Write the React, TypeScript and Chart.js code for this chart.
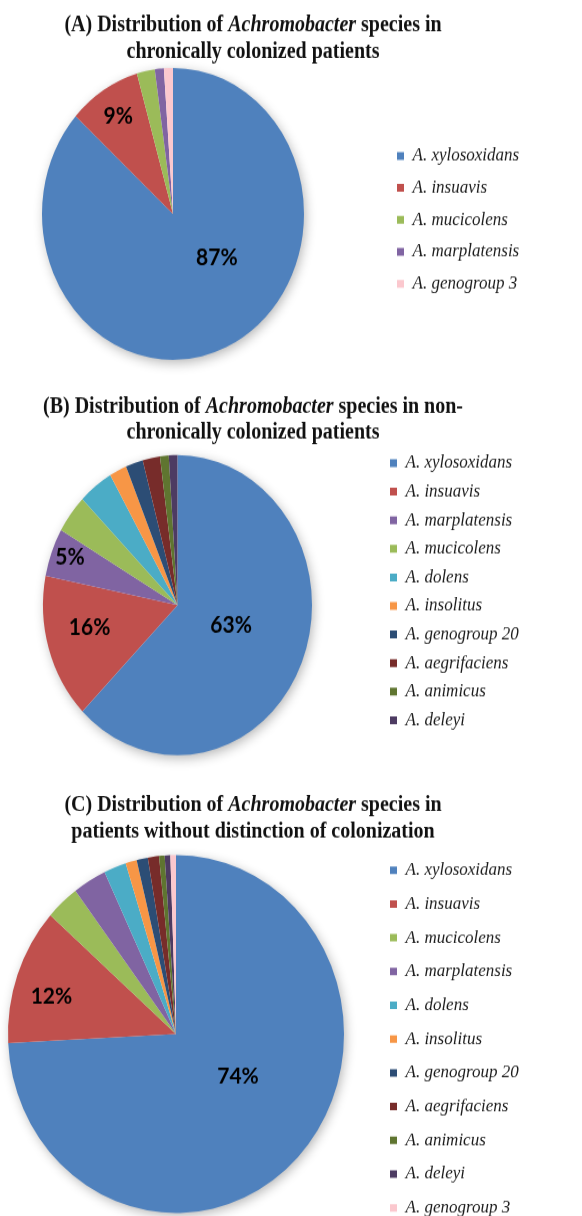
import React, { useEffect, useRef } from "react";
import { Chart, registerables } from "chart.js";

Chart.register(...registerables);

// ---------- data ----------
const speciesA = ["A. xylosoxidans", "A. insuavis", "A. mucicolens", "A. marplatensis", "A. genogroup 3"];
const countsA = [78, 8, 2, 1, 1];

const speciesB = [
  "A. xylosoxidans", "A. insuavis", "A. marplatensis", "A. mucicolens", "A. dolens",
  "A. insolitus", "A. genogroup 20", "A. aegrifaciens", "A. animicus", "A. deleyi",
];
const countsB = [60, 15, 5, 4, 4, 2, 2, 2, 1, 1];

const speciesC = [
  "A. xylosoxidans", "A. insuavis", "A. mucicolens", "A. marplatensis", "A. dolens",
  "A. insolitus", "A. genogroup 20", "A. aegrifaciens", "A. animicus", "A. deleyi", "A. genogroup 3",
];
const countsC = [138, 23, 6, 6, 4, 2, 2, 2, 1, 1, 1];

type Seg = { t: string; i: boolean };
const titleA: Seg[][] = [
  [{ t: "(A) Distribution of ", i: false }, { t: "Achromobacter", i: true }, { t: " species in", i: false }],
  [{ t: "chronically colonized patients", i: false }],
];
const titleB: Seg[][] = [
  [{ t: "(B) Distribution of ", i: false }, { t: "Achromobacter", i: true }, { t: " species in non-", i: false }],
  [{ t: "chronically colonized patients", i: false }],
];
const titleC: Seg[][] = [
  [{ t: "(C) Distribution of ", i: false }, { t: "Achromobacter", i: true }, { t: " species in", i: false }],
  [{ t: "patients without distinction of colonization", i: false }],
];

const speciesColors: Record<string, string> = {
  "A. xylosoxidans": "#4F81BD",
  "A. insuavis": "#C0504D",
  "A. mucicolens": "#9BBB59",
  "A. marplatensis": "#8064A2",
  "A. dolens": "#4BACC6",
  "A. insolitus": "#F79646",
  "A. genogroup 20": "#2C4D75",
  "A. aegrifaciens": "#772C2A",
  "A. animicus": "#5F7530",
  "A. deleyi": "#4D3B62",
  "A. genogroup 3": "#FBC8CE",
};

// ---------- layout / style per panel ----------
type Panel = {
  key: string;
  labels: string[];
  values: number[];
  title: Seg[][];
  top: number;
  boxH: number;
  S: number;
  Hu: number;
  cx: number; cy: number; r: number;
  titleYs: number[];
  legendBoxX: number; legendCenterY: number; legendPad: number;
  labelPlace: Record<number, [number, number]>;
};

const W = 582;
const LEGEND_FONT = 17;

const panels: Panel[] = [
  {
    key: "A", labels: speciesA, values: countsA, title: titleA,
    top: 0, boxH: 385, S: 1.115, Hu: 350,
    cx: 173, cy: 191.9, r: 131,
    titleYs: [22.6, 46.8],
    legendBoxX: 397, legendCenterY: 197.3, legendPad: 11.7,
    labelPlace: { 0: [-24, 0.45], 1: [0, 0.79] },
  },
  {
    key: "B", labels: speciesB, values: countsB, title: titleB,
    top: 385, boxH: 395, S: 1.115, Hu: 354,
    cx: 177.5, cy: 197.3, r: 134.5,
    titleYs: [19.9, 43.2],
    legendBoxX: 390, legendCenterY: 185.2, legendPad: 8.6,
    labelPlace: { 0: [-4, 0.42], 1: [4, 0.67], 2: [1, 0.86] },
  },
  {
    key: "C", labels: speciesC, values: countsC, title: titleC,
    top: 780, boxH: 436, S: 1.065, Hu: 430,
    cx: 176, cy: 238.5, r: 168,
    titleYs: [23.7, 49.0],
    legendBoxX: 390, legendCenterY: 243.2, legendPad: 14.7,
    labelPlace: { 0: [-10.6, 0.44], 1: [-3.7, 0.77] },
  },
];

const SERIF = "'Liberation Serif', 'Times New Roman', serif";

function PieChart({ p }: { p: Panel }) {
  const ref = useRef<HTMLCanvasElement | null>(null);

  useEffect(() => {
    const canvas = ref.current;
    if (!canvas) return;

    const pieShadow = {
      id: "pieShadow" + p.key,
      beforeDatasetsDraw(chart: any) {
        const el = chart.getDatasetMeta(0).data[0];
        if (!el) return;
        const g = el.getProps(["x", "y", "outerRadius"], true);
        const ctx = chart.ctx;
        ctx.save();
        ctx.shadowColor = "rgba(0,0,0,0.32)";
        ctx.shadowBlur = 12;
        ctx.shadowOffsetX = 2;
        ctx.shadowOffsetY = 3;
        ctx.beginPath();
        ctx.arc(g.x, g.y, g.outerRadius - 1, 0, Math.PI * 2);
        ctx.fillStyle = "#ffffff";
        ctx.fill();
        ctx.restore();
      },
    };

    const sliceLabels = {
      id: "sliceLabels" + p.key,
      afterDatasetsDraw(chart: any) {
        const meta = chart.getDatasetMeta(0);
        const vals = chart.data.datasets[0].data as number[];
        const total = vals.reduce((a, b) => a + b, 0);
        const ctx = chart.ctx;
        ctx.save();
        ctx.font = "bold 21px Lato, 'Open Sans', sans-serif";
        ctx.fillStyle = "#000";
        ctx.textAlign = "center";
        ctx.textBaseline = "middle";
        meta.data.forEach((el: any, i: number) => {
          const pct = (vals[i] / total) * 100;
          if (pct < 5) return;
          const g = el.getProps(["x", "y", "startAngle", "endAngle", "outerRadius"], true);
          const [shift, rf] = p.labelPlace[i] || [0, 0.6];
          const a = (g.startAngle + g.endAngle) / 2 + (shift * Math.PI) / 180;
          ctx.fillText(
            Math.round(pct) + "%",
            g.x + Math.cos(a) * rf * g.outerRadius,
            g.y + Math.sin(a) * rf * g.outerRadius
          );
        });
        ctx.restore();
      },
    };

    // place the library's legend box to the right of the pie
    const legendPlace = {
      id: "legendPlace" + p.key,
      afterLayout(chart: any) {
        const lg = chart.legend;
        if (!lg) return;
        const pad = lg.options.labels.padding;
        const h = lg.bottom - lg.top;
        lg.left = p.legendBoxX - pad;
        lg.right = W;
        lg.width = lg.right - lg.left;
        lg.top = p.legendCenterY - h / 2;
        lg.bottom = lg.top + h;
      },
    };

    const panelTitle = {
      id: "panelTitle" + p.key,
      afterDraw(chart: any) {
        const ctx = chart.ctx;
        ctx.save();
        ctx.fillStyle = "#111";
        ctx.textBaseline = "middle";
        ctx.textAlign = "left";
        const fontFor = (it: boolean) => `${it ? "italic " : ""}bold 20px ${SERIF}`;
        p.title.forEach((segs, li) => {
          let w = 0;
          segs.forEach((s) => {
            ctx.font = fontFor(s.i);
            w += ctx.measureText(s.t).width;
          });
          let x = 253 - w / 2;
          segs.forEach((s) => {
            ctx.font = fontFor(s.i);
            ctx.fillText(s.t, x, p.titleYs[li]);
            x += ctx.measureText(s.t).width;
          });
        });
        ctx.restore();
      },
    };

    const extra = 20;
    const chart = new Chart(canvas, {
      type: "pie",
      data: {
        labels: p.labels,
        datasets: [
          {
            data: p.values,
            backgroundColor: p.labels.map((l) => speciesColors[l]),
            borderWidth: 0,
            hoverBorderWidth: 0,
            hoverOffset: 0,
          } as any,
        ],
      },
      options: {
        responsive: false,
        animation: false,
        devicePixelRatio: 1,
        events: [],
        layout: {
          padding: {
            left: p.cx - p.r,
            right: W - (p.cx + p.r) - 1,
            top: p.cy - p.r - extra,
            bottom: p.Hu - (p.cy + p.r + extra),
          },
        },
        plugins: {
          legend: {
            display: true,
            position: "right",
            align: "center",
            maxWidth: 1,
            labels: {
              boxWidth: 7,
              boxHeight: 7,
              padding: p.legendPad,
              color: "#1c1c1c",
              font: { family: SERIF, style: "italic", size: LEGEND_FONT },
            },
          },
          tooltip: { enabled: false },
          title: { display: false },
        },
      } as any,
      plugins: [pieShadow, sliceLabels, legendPlace, panelTitle],
    });

    return () => chart.destroy();
  }, [p]);

  return (
    <div
      style={{
        position: "absolute",
        left: 0,
        top: p.top,
        width: W,
        height: p.boxH,
        overflow: "hidden",
      }}
    >
      <canvas
        ref={ref}
        width={W}
        height={p.Hu}
        style={{ display: "block", width: `${W}px`, height: `${p.Hu * p.S}px` }}
      />
    </div>
  );
}

export default function App() {
  useEffect(() => {
    document.body.style.margin = "0";
  }, []);
  return (
    <div
      style={{
        position: "absolute",
        left: 0,
        top: 0,
        width: W,
        height: 1216,
        overflow: "hidden",
        background: "#ffffff",
      }}
    >
      {panels.map((p) => (
        <PieChart key={p.key} p={p} />
      ))}
    </div>
  );
}
